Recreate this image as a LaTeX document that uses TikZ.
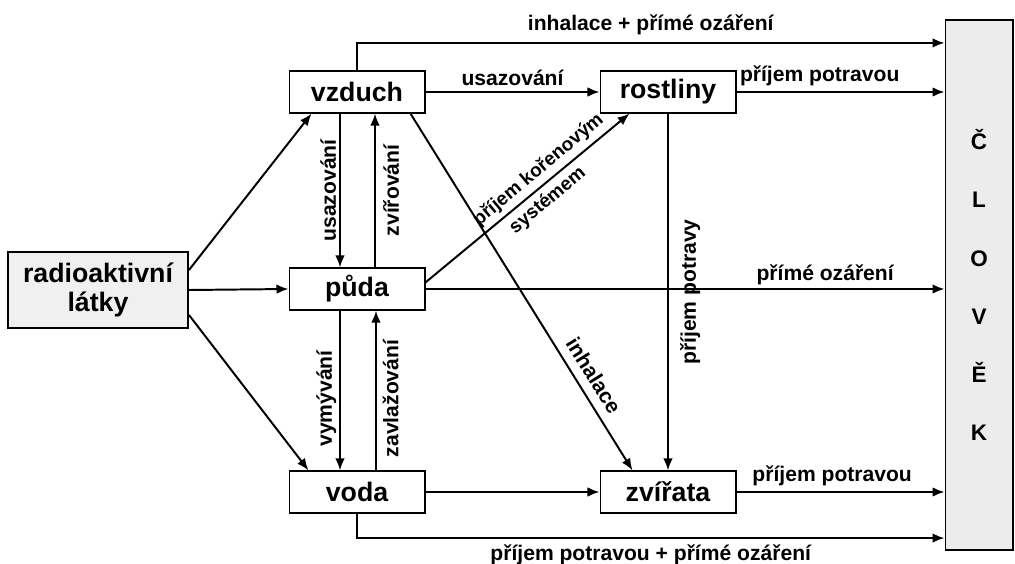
\documentclass[tikz,border=0pt]{standalone}
\usepackage{fontspec}
\setmainfont{Liberation Sans}
\usetikzlibrary{arrows.meta,calc}

\begin{document}
\begin{tikzpicture}[x=0.025cm,y=-0.025cm,
    box/.style={draw,line width=1.4pt,minimum width=3.375cm,minimum height=1.03cm,
      font=\fontsize{19}{20}\selectfont\bfseries},
    lbl/.style={font=\fontsize{15}{18}\selectfont\bfseries,inner sep=2pt},
    lbls/.style={font=\fontsize{13.5}{21}\selectfont\bfseries,inner sep=1pt},
    arr/.style={line width=1.4pt,-{Latex[length=3mm,width=2.4mm]}}]
  \useasboundingbox (0,0) rectangle (1015,564);

  % boxes
  \node [box,fill=gray!12,minimum width=4.5cm,minimum height=1.9cm,align=center] (zdroj) at (98,290) {radioaktivní\\látky};
  \node [box] (vzduch) at (357,92) {vzduch};
  \node [box] (puda) at (357,289) {půda};
  \node [box] (voda) at (357,492) {voda};
  \node [box] (rostliny) at (668,92) {rostliny};
  \node [box] (zvirata) at (668,492) {zvířata};
  \node [draw,line width=1.4pt,fill=gray!15,minimum width=1.675cm,minimum height=13.25cm,
    align=center,font=\fontsize{16}{41.3}\selectfont\bfseries] (clovek) at (979,285) {Č\\L\\O\\V\\Ě\\K};

  % from the source
  \draw [arr] ($(zdroj.east)+(0,-20)$) -- ($(vzduch.south west)+(23,0)$);
  \draw [arr] (zdroj.east) -- (puda.west);
  \draw [arr] ($(zdroj.east)+(0,25)$) -- ($(voda.north west)+(20,0)$);

  % between air, soil and water
  \draw [arr] ($(vzduch.south)+(-17,0)$) -- ($(puda.north)+(-17,0)$)
    node [lbl,midway,rotate=90,anchor=south] {usazování};
  \draw [arr] ($(puda.north)+(18,0)$) -- ($(vzduch.south)+(18,0)$)
    node [lbl,midway,rotate=90,anchor=north,inner sep=5pt] {zvířování};
  \draw [arr] ($(puda.south)+(-17,0)$) -- ($(voda.north)+(-17,0)$)
    node [lbl,pos=0.55,rotate=90,anchor=south] {vymývání};
  \draw [arr] ($(voda.north)+(19,0)$) -- ($(puda.south)+(19,0)$)
    node [lbl,pos=0.45,rotate=90,anchor=north,inner sep=4pt] {zavlažování};

  % to plants and animals
  \draw [arr] (vzduch.east) -- (rostliny.west) node [lbl,midway,above,inner sep=4pt] {usazování};
  \draw [arr] ($(puda.north east)+(0,15)$) -- ($(rostliny.south west)+(30,0)$)
    node [lbls,pos=0.6,rotate=40,align=left] {příjem kořenovým\\\hspace{1.2em}systémem};
  \draw [arr] ($(vzduch.south east)+(-15,0)$) -- ($(zvirata.north west)+(33,0)$)
    node [lbl,pos=0.76,rotate=-58,anchor=south,inner sep=6pt] {inhalace};
  \draw [arr] (rostliny.south) -- (zvirata.north)
    node [lbl,midway,rotate=90,anchor=north,inner sep=8pt] {příjem potravy};
  \draw [arr] (voda.east) -- (zvirata.west);

  % to man
  \draw [arr] (vzduch.north) |- ($(clovek.north west)+(0,24)$)
    node [lbl,pos=0.75,above,inner sep=5pt] {inhalace + přímé ozáření};
  \draw [arr] (rostliny.east) -- (rostliny.east -| clovek.west)
    node [lbl,pos=0.4,above,inner sep=4pt] {příjem potravou};
  \draw [arr] (puda.east) -- (puda.east -| clovek.west)
    node [lbl,pos=0.77,above] {přímé ozáření};
  \draw [arr] (zvirata.east) -- (zvirata.east -| clovek.west)
    node [lbl,pos=0.46,above,inner sep=4pt] {příjem potravou};
  \draw [arr] (voda.south) |- ($(clovek.south west)+(0,-13)$)
    node [lbl,pos=0.75,below,inner sep=4pt] {příjem potravou + přímé ozáření};
\end{tikzpicture}
\end{document}
